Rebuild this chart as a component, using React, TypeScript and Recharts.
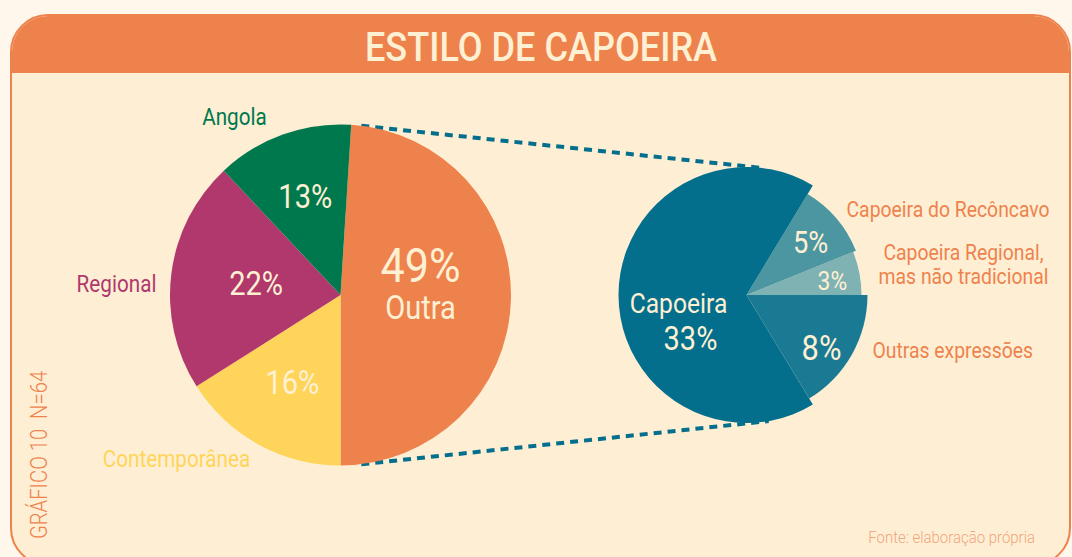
import React from 'react'
import { PieChart, Pie, Cell } from 'recharts'

// dados
const estilos = ['Outra', 'Contemporânea', 'Regional', 'Angola']
const estiloPct = [49, 16, 22, 13]
const outraTipos = ['Capoeira Regional, mas não tradicional', 'Capoeira do Recôncavo', 'Capoeira', 'Outras expressões']
const outraPct = [3, 5, 33, 8]

const titulo = 'ESTILO DE CAPOEIRA'
const grafico = 'GRÁFICO 10\u00A0\u00A0N=64'
const fonte = 'Fonte: elaboração própria'

const estiloData = estilos.map((name, i) => ({ name, value: estiloPct[i] }))
const outraData = outraTipos.map((name, i) => ({ name, value: outraPct[i] }))

// layout / estilo
const W = 1072
const H = 557
const CY = 295
const LCX = 340.5
const LR = 170.5
const RCX = 746.5
const RR = [115, 118, 128, 121]

const ORANGE = '#EE824D'
const CREAM = '#FEF0D3'
const TEAL = '#046F8C'
const estiloCor: Record<string, string> = {
  Outra: ORANGE,
  Contemporânea: '#FED55A',
  Regional: '#B0386D',
  Angola: '#00784E',
}
const outraCor = ['#7FB2B2', '#4C96A1', TEAL, '#1A7A93']

const SX = 0.88
const RAD = Math.PI / 180
const polar = (cx: number, cy: number, r: number, a: number) => ({
  x: cx + r * Math.cos(-a * RAD),
  y: cy + r * Math.sin(-a * RAD),
})

function T({ x, y, size, fill, anchor = 'middle', weight = 400, mid = false, children }: any) {
  return (
    <text
      transform={`translate(${x},${y}) scale(${SX},1)`}
      textAnchor={anchor}
      dominantBaseline={mid ? 'central' : 'auto'}
      fontSize={size}
      fontWeight={weight}
      fill={fill}
      fontFamily="Roboto, sans-serif"
    >
      {children}
    </text>
  )
}

const leftInside: Record<string, number> = { Outra: 80, Contemporânea: 100, Regional: 85, Angola: 104 }
const leftName: Record<string, { dx: number; dy: number }> = {
  Contemporânea: { dx: -164, dy: 172 },
  Regional: { dx: -224, dy: -3 },
  Angola: { dx: -106, dy: -170 },
}

function leftLabel(p: any) {
  const { cx, cy, midAngle, value } = p
  const name = p.payload?.name ?? p.name
  const c = polar(cx, cy, leftInside[name], midAngle)
  if (name === 'Outra') {
    return (
      <g>
        <T x={c.x} y={c.y - 16} size={49} fill={CREAM}>{value}%</T>
        <T x={c.x} y={c.y + 21} size={33} fill={CREAM}>{name}</T>
      </g>
    )
  }
  const n = leftName[name]
  return (
    <g>
      <T x={c.x} y={c.y} size={33} fill={CREAM} mid>{value}%</T>
      <T x={cx + n.dx} y={cy + n.dy} size={23.5} fill={estiloCor[name]}>{name}</T>
    </g>
  )
}

const rightInside: Record<string, { r: number; a: number; size: number }> = {
  'Capoeira Regional, mas não tradicional': { r: 87, a: -2, size: 26 },
  'Capoeira do Recôncavo': { r: 83, a: -1, size: 31 },
  'Outras expressões': { r: 92, a: -6, size: 35 },
}
const rightName: Record<string, { dx: number; dy: number; anchor: string; lines: string[] }> = {
  'Capoeira do Recôncavo': { dx: 100, dy: -78, anchor: 'start', lines: ['Capoeira do Recôncavo'] },
  'Capoeira Regional, mas não tradicional': {
    dx: 217,
    dy: -35.5,
    anchor: 'middle',
    lines: ['Capoeira Regional,', 'mas não tradicional'],
  },
  'Outras expressões': { dx: 126, dy: 63, anchor: 'start', lines: ['Outras expressões'] },
}

function rightLabel(p: any) {
  const { cx, cy, midAngle, value } = p
  const name = p.payload?.name ?? p.name
  if (name === 'Capoeira') {
    return (
      <g>
        <T x={cx - 68} y={cy + 18} size={28} fill={CREAM}>{name}</T>
        <T x={cx - 56} y={cy + 55} size={33} fill={CREAM}>{value}%</T>
      </g>
    )
  }
  const s = rightInside[name]
  const c = polar(cx, cy, s.r, midAngle + s.a)
  const n = rightName[name]
  return (
    <g>
      <T x={c.x} y={c.y} size={s.size} fill={CREAM} mid>{value}%</T>
      {n.lines.map((l, i) => (
        <T key={l} x={cx + n.dx} y={cy + n.dy + i * 24} size={22} fill={ORANGE} anchor={n.anchor}>{l}</T>
      ))}
    </g>
  )
}

export default function App() {
  const a1 = polar(LCX, CY, LR, 83)
  const a2 = polar(RCX, CY, 128, 84)
  const b1 = polar(LCX, CY, LR, -83)
  const b2 = polar(RCX, CY, 128, -80)

  return (
    <div
      style={{
        position: 'absolute',
        left: 0,
        top: 0,
        width: W,
        height: H,
        overflow: 'hidden',
        background: '#FFF7EC',
        fontFamily: 'Roboto, sans-serif',
      }}
    >
      <div
        style={{
          position: 'absolute',
          left: 10,
          top: 14,
          width: 1061,
          height: 552,
          boxSizing: 'border-box',
          border: `2px solid ${ORANGE}`,
          borderRadius: 38,
          background: '#FEEFD4',
          overflow: 'hidden',
        }}
      >
        <div style={{ position: 'absolute', left: 0, top: 0, right: 0, height: 57, background: ORANGE }} />
      </div>

      <svg width={W} height={H} style={{ position: 'absolute', left: 0, top: 0 }}>
        <T x={541} y={61} size={41} fill={CREAM} weight={500}>{titulo}</T>
        <line x1={a1.x} y1={a1.y} x2={a2.x} y2={a2.y} stroke={TEAL} strokeWidth={4} strokeDasharray="8 6" />
        <line x1={b1.x} y1={b1.y} x2={b2.x} y2={b2.y} stroke={TEAL} strokeWidth={4} strokeDasharray="8 6" />
        <g transform="translate(47,455) rotate(-90)">
          <T x={0} y={0} size={23} fill={ORANGE} weight={300}>{grafico}</T>
        </g>
        <T x={1035} y={543} size={17} fill="#F2A57C" anchor="end" weight={300}>{fonte}</T>
      </svg>

      <div style={{ position: 'absolute', left: 0, top: 0 }}>
        <PieChart width={W} height={H} margin={{ top: 0, right: 0, bottom: 0, left: 0 }}>
          <Pie
            data={estiloData}
            dataKey="value"
            nameKey="name"
            cx={LCX}
            cy={CY}
            outerRadius={LR}
            startAngle={86.4}
            endAngle={-273.6}
            stroke="none"
            label={leftLabel}
            labelLine={false}
            isAnimationActive={false}
          >
            {estiloData.map((d) => (
              <Cell key={d.name} fill={estiloCor[d.name]} />
            ))}
          </Pie>
          {RR.map((r, k) => (
            <Pie
              key={k}
              data={outraData}
              dataKey="value"
              nameKey="name"
              cx={RCX}
              cy={CY}
              outerRadius={r}
              startAngle={0}
              endAngle={360}
              stroke="none"
              label={k === 2 ? rightLabel : false}
              labelLine={false}
              isAnimationActive={false}
            >
              {outraData.map((d, i) => (
                <Cell key={d.name} fill={i === k ? outraCor[i] : 'none'} />
              ))}
            </Pie>
          ))}
        </PieChart>
      </div>
    </div>
  )
}
